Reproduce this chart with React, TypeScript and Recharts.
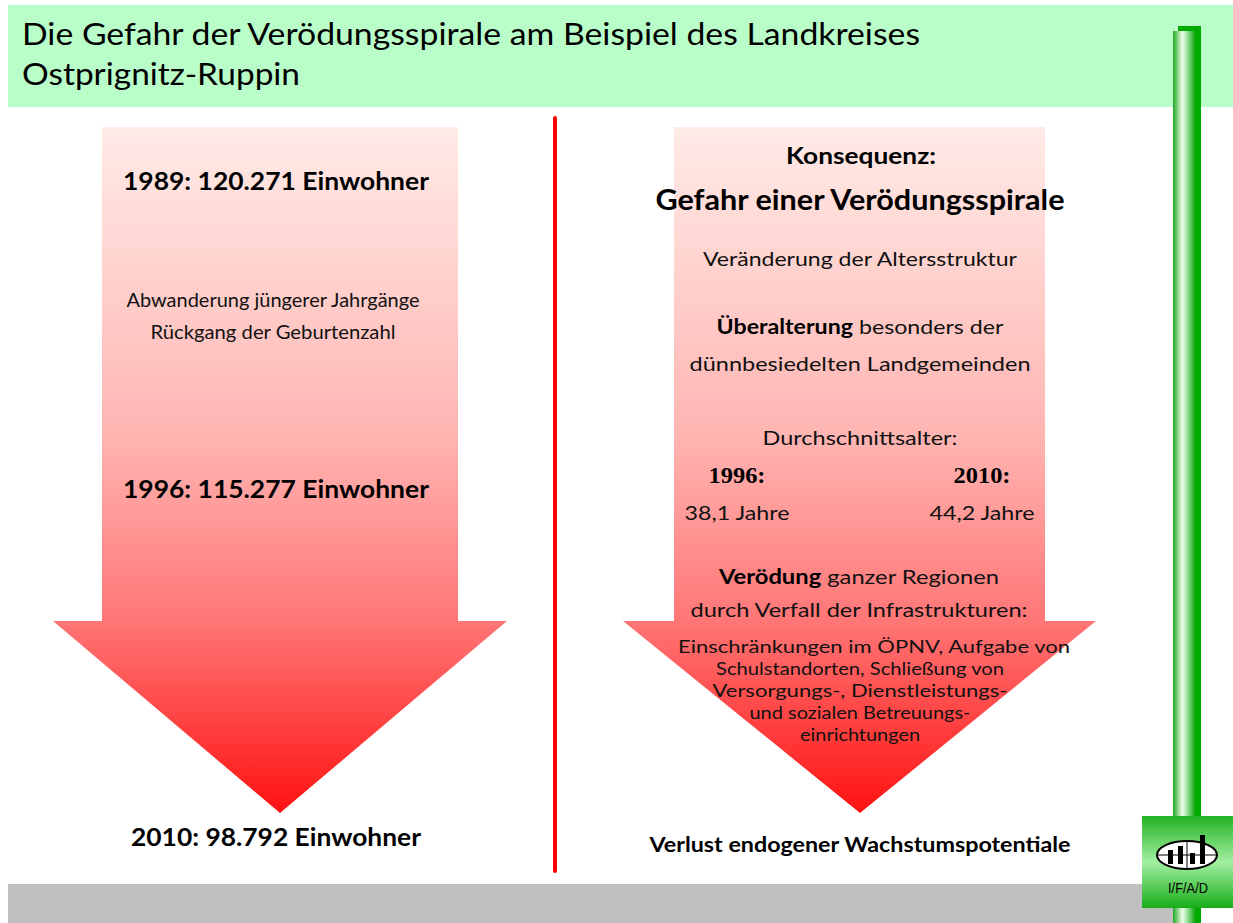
import React from "react";
import { ComposedChart, XAxis, YAxis, Customized } from "recharts";

// Bevölkerung Landkreis Ostprignitz-Ruppin
const populationYears = [1989, 1996, 2010];
const populationValues = [120271, 115277, 98792];

// Durchschnittsalter
const ageYears = [1996, 2010];
const averageAges = [38.1, 44.2];

const causeLines = ["Abwanderung jüngerer Jahrgänge", "Rückgang der Geburtenzahl"];
const infrastructureLines = [
  "Einschränkungen im ÖPNV, Aufgabe von",
  "Schulstandorten, Schließung von",
  "Versorgungs-, Dienstleistungs-",
  "und sozialen Betreuungs-",
  "einrichtungen",
];

const chartData = populationYears.map((year, i) => ({ year, value: populationValues[i] }));

const SANS = "Lato, 'Open Sans', sans-serif";
const SERIF = "'Liberation Serif', 'DejaVu Serif', serif";

const fmtInt = (v: number) => String(v).replace(/\B(?=(\d{3})+(?!\d))/g, ".");
const fmtDec = (v: number) => v.toFixed(1).replace(".", ",");

// baselines / widths of the text lines (measured off the slide)
const popLabelY = [190, 498, 846];
const popLabelLen = [306, 306, 290];
const causeLen = [293, 245];
const infraLen = [392, 288, 295, 221, 120];
const infraX = [874, 860, 860, 860, 860];

function Slide() {
  return (
    <g>
      <defs>
        <linearGradient id="arrowFill" x1="0" y1="0" x2="0" y2="1">
          <stop offset="0%" stopColor="#ffebe7" />
          <stop offset="45%" stopColor="#ffb5b2" />
          <stop offset="72%" stopColor="#ff7676" />
          <stop offset="100%" stopColor="#ff1212" />
        </linearGradient>
        <linearGradient id="poleFill" x1="0" y1="0" x2="1" y2="0">
          <stop offset="0%" stopColor="#1ea81e" />
          <stop offset="42%" stopColor="#eefeee" />
          <stop offset="58%" stopColor="#b5ecb5" />
          <stop offset="100%" stopColor="#12a712" />
        </linearGradient>
        <linearGradient id="logoFill" x1="0" y1="0" x2="0" y2="1">
          <stop offset="0%" stopColor="#22b322" />
          <stop offset="50%" stopColor="#a2efa2" />
          <stop offset="100%" stopColor="#1aad1a" />
        </linearGradient>
      </defs>

      {/* title band */}
      <rect x={8} y={5} width={1225} height={102} fill="#b9fec9" />
      <text x={22} y={45} fontFamily={SANS} fontSize={31} fill="#000" textLength={898} lengthAdjust="spacingAndGlyphs">
        Die Gefahr der Verödungsspirale am Beispiel des Landkreises
      </text>
      <text x={22} y={85} fontFamily={SANS} fontSize={31} fill="#000" textLength={278} lengthAdjust="spacingAndGlyphs">
        Ostprignitz-Ruppin
      </text>

      {/* footer band */}
      <rect x={8} y={884} width={1170} height={39} fill="#c0c0c0" />

      {/* arrows */}
      <path d="M102,127 H458 V621 H507 L280,813 L53,621 H102 Z" fill="url(#arrowFill)" />
      <path d="M674,127 H1045 V621 H1096 L860,813 L623,621 H674 Z" fill="url(#arrowFill)" />

      {/* divider */}
      <line x1={555} y1={118} x2={555} y2={871} stroke="#ff0000" strokeWidth={4} strokeLinecap="round" />

      {/* green pole */}
      <rect x={1178} y={26} width={23} height={897} fill="#00ab00" />
      <rect x={1173} y={31} width={22} height={892} fill="url(#poleFill)" />

      {/* logo */}
      <rect x={1142} y={816} width={91} height={92} fill="url(#logoFill)" />
      <ellipse cx={1187} cy={855} rx={30} ry={14} fill="#fff" stroke="#000" strokeWidth={2} />
      <line x1={1157} y1={855} x2={1217} y2={855} stroke="#000" strokeWidth={1} />
      <line x1={1187} y1={841} x2={1187} y2={869} stroke="#000" strokeWidth={1} />
      <rect x={1168} y={850} width={5} height={14} fill="#000" />
      <rect x={1178} y={846} width={5} height={18} fill="#000" />
      <rect x={1190} y={853} width={5} height={11} fill="#000" />
      <rect x={1200} y={835} width={5} height={29} fill="#000" />
      <text x={1188} y={893} textAnchor="middle" fontFamily="'Liberation Sans', Arial, sans-serif" fontSize={14} fill="#000" textLength={40} lengthAdjust="spacingAndGlyphs">
        I/F/A/D
      </text>

      {/* left column: population */}
      {populationYears.map((year, i) => (
        <text
          key={year}
          x={276}
          y={popLabelY[i]}
          textAnchor="middle"
          fontFamily={SANS}
          fontWeight="bold"
          fontSize={24}
          fill="#000"
          textLength={popLabelLen[i]}
          lengthAdjust="spacingAndGlyphs"
        >
          {`${year}: ${fmtInt(populationValues[i])} Einwohner`}
        </text>
      ))}
      {causeLines.map((line, i) => (
        <text
          key={line}
          x={273}
          y={307 + i * 32}
          textAnchor="middle"
          fontFamily={SANS}
          fontSize={19}
          fill="#111"
          textLength={causeLen[i]}
          lengthAdjust="spacingAndGlyphs"
        >
          {line}
        </text>
      ))}

      {/* right column: consequences */}
      <text x={861} y={164} textAnchor="middle" fontFamily={SANS} fontWeight="bold" fontSize={23} fill="#000" textLength={150} lengthAdjust="spacingAndGlyphs">
        Konsequenz:
      </text>
      <text x={860} y={210} textAnchor="middle" fontFamily={SANS} fontWeight="bold" fontSize={28} fill="#000" textLength={409} lengthAdjust="spacingAndGlyphs">
        Gefahr einer Verödungsspirale
      </text>
      <text x={860} y={266} textAnchor="middle" fontFamily={SANS} fontSize={20} fill="#111" textLength={314} lengthAdjust="spacingAndGlyphs">
        Veränderung der Altersstruktur
      </text>
      <text x={860} y={334} textAnchor="middle" fontFamily={SANS} fontSize={20} fill="#111" textLength={287} lengthAdjust="spacingAndGlyphs">
        <tspan fontWeight="bold" fill="#000">Überalterung</tspan> besonders der
      </text>
      <text x={860} y={371} textAnchor="middle" fontFamily={SANS} fontSize={20} fill="#111" textLength={341} lengthAdjust="spacingAndGlyphs">
        dünnbesiedelten Landgemeinden
      </text>
      <text x={860} y={445} textAnchor="middle" fontFamily={SANS} fontSize={20} fill="#111" textLength={195} lengthAdjust="spacingAndGlyphs">
        Durchschnittsalter:
      </text>
      {ageYears.map((year, i) => (
        <g key={year}>
          <text
            x={i === 0 ? 737 : 982}
            y={483}
            textAnchor="middle"
            fontFamily={SERIF}
            fontWeight="bold"
            fontSize={23}
            fill="#000"
            textLength={57}
            lengthAdjust="spacingAndGlyphs"
          >
            {`${year}:`}
          </text>
          <text
            x={i === 0 ? 737 : 982}
            y={520}
            textAnchor="middle"
            fontFamily={SANS}
            fontSize={20}
            fill="#111"
            textLength={105}
            lengthAdjust="spacingAndGlyphs"
          >
            {`${fmtDec(averageAges[i])} Jahre`}
          </text>
        </g>
      ))}
      <text x={859} y={584} textAnchor="middle" fontFamily={SANS} fontSize={20} fill="#111" textLength={280} lengthAdjust="spacingAndGlyphs">
        <tspan fontWeight="bold" fill="#000">Verödung</tspan> ganzer Regionen
      </text>
      <text x={859} y={617} textAnchor="middle" fontFamily={SANS} fontSize={20} fill="#111" textLength={337} lengthAdjust="spacingAndGlyphs">
        durch Verfall der Infrastrukturen:
      </text>
      {infrastructureLines.map((line, i) => (
        <text
          key={line}
          x={infraX[i]}
          y={653 + i * 22}
          textAnchor="middle"
          fontFamily={SANS}
          fontSize={18}
          fill="#111"
          textLength={infraLen[i]}
          lengthAdjust="spacingAndGlyphs"
        >
          {line}
        </text>
      ))}
      <text x={860} y={852} textAnchor="middle" fontFamily={SANS} fontWeight="bold" fontSize={20} fill="#000" textLength={421} lengthAdjust="spacingAndGlyphs">
        Verlust endogener Wachstumspotentiale
      </text>
    </g>
  );
}

export default function App() {
  return (
    <div style={{ position: "absolute", left: 0, top: 0, width: 1233, height: 923, background: "#fff" }}>
      <ComposedChart width={1233} height={923} data={chartData} margin={{ top: 0, right: 0, bottom: 0, left: 0 }}>
        <XAxis dataKey="year" hide />
        <YAxis dataKey="value" hide />
        <Customized component={<Slide />} />
      </ComposedChart>
    </div>
  );
}
